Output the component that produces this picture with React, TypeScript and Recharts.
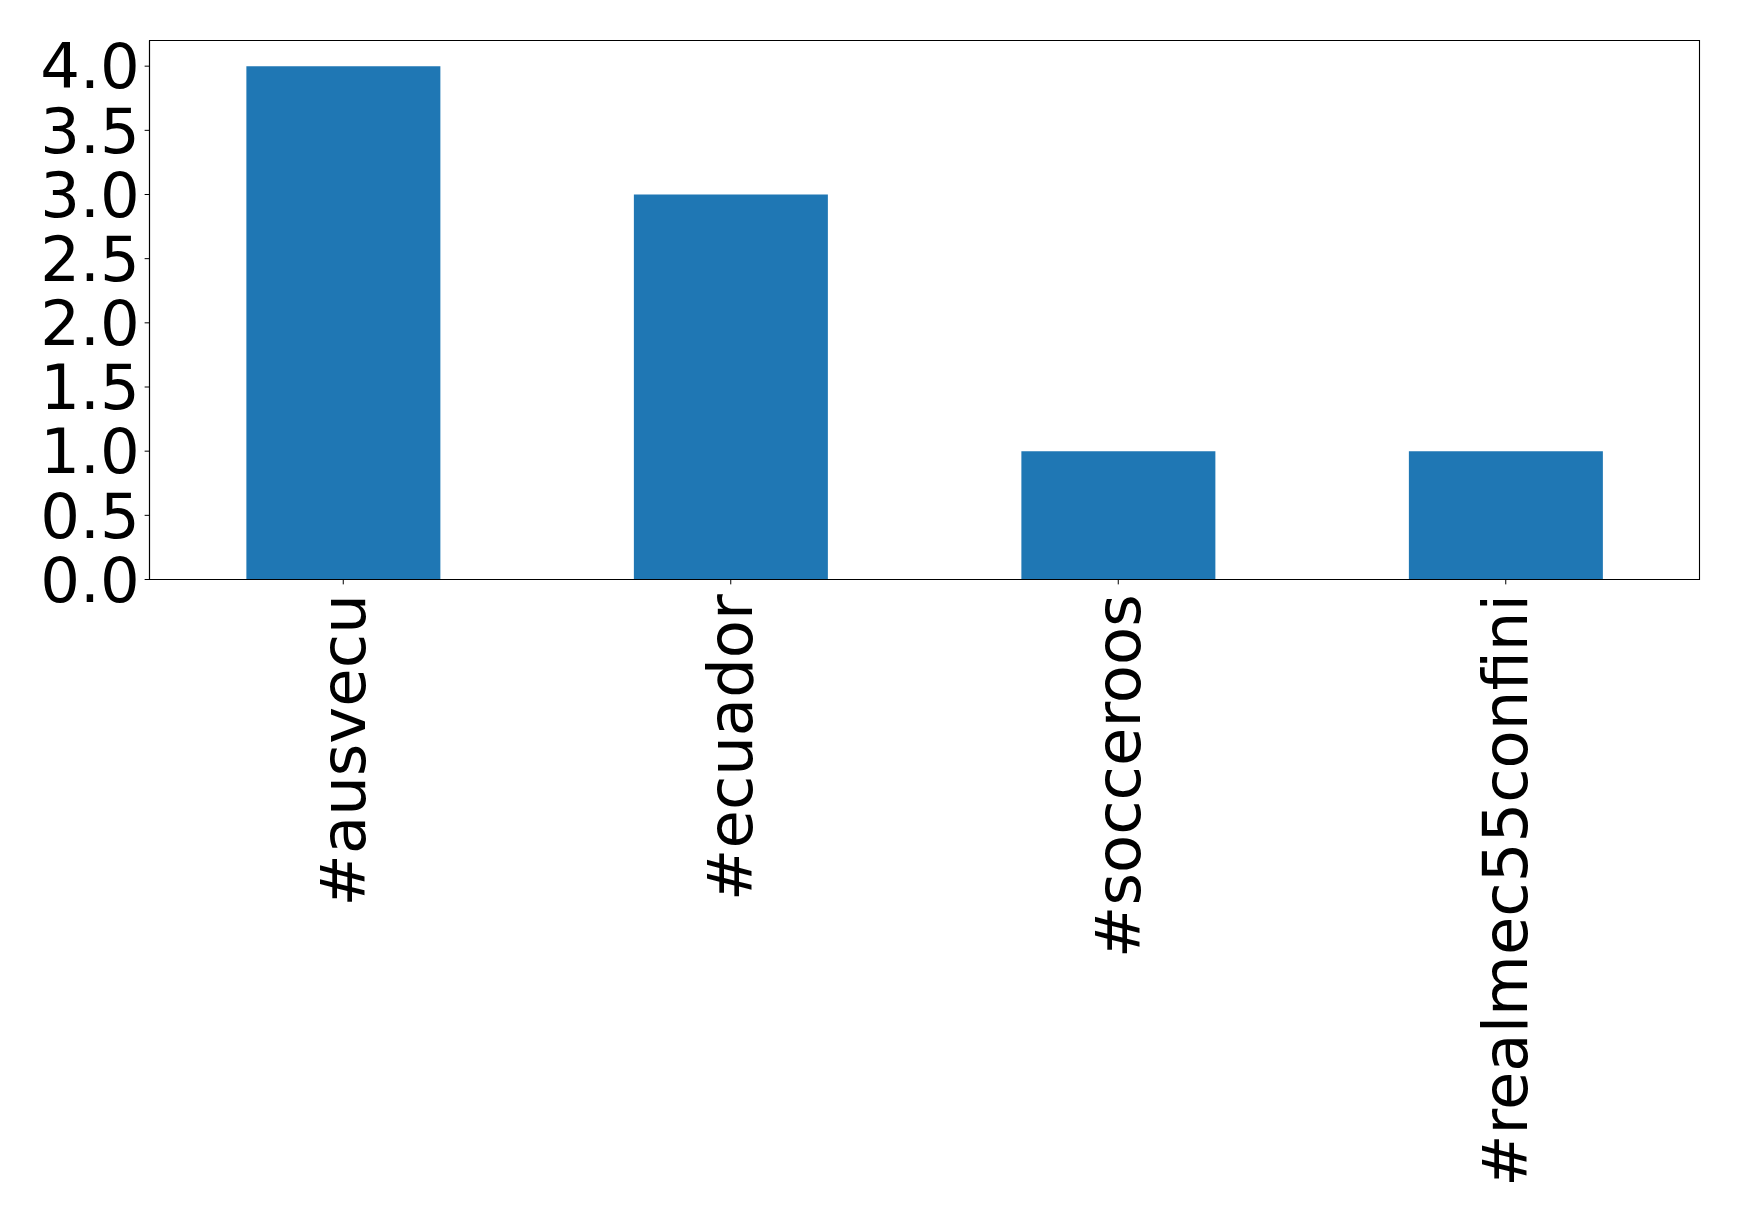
import { BarChart, Bar, XAxis, YAxis, ReferenceArea } from "recharts";

const tags = ["#ausvecu", "#ecuador", "#socceroos", "#realmec55confini"];
const counts = [4, 3, 1, 1];
const yTicks = [0, 0.5, 1, 1.5, 2, 2.5, 3, 3.5, 4];

const data = tags.map((tag, i) => ({ tag, count: counts[i] }));

const FONT = "DejaVu Sans";
const FONT_SIZE = 62.5;
const TICK = 4.86;

function RotatedTick({ x, y, payload }: any) {
  return (
    <text
      transform={`translate(${x},${y + 5}) rotate(-90)`}
      textAnchor="end"
      dominantBaseline="central"
      fontFamily={FONT}
      fontSize={FONT_SIZE}
      fill="#000"
    >
      {payload.value}
    </text>
  );
}

export default function App() {
  return (
    <div style={{ position: "absolute", left: 0, top: 0, background: "#fff" }}>
      <BarChart
        width={1739}
        height={1221}
        data={data}
        margin={{ top: 40.5, right: 39.5, bottom: 0, left: 0 }}
        barCategoryGap="25%"
      >
        <XAxis
          dataKey="tag"
          height={641.5}
          interval={0}
          tick={<RotatedTick />}
          tickSize={TICK}
          tickMargin={TICK}
          stroke="#000"
          tickLine={{ stroke: "#000" }}
          axisLine={{ stroke: "#000", strokeWidth: 1.1 }}
        />
        <YAxis
          domain={[0, 4.2]}
          ticks={yTicks}
          interval={0}
          width={149.5}
          stroke="#000"
          tickFormatter={(v) => Number(v).toFixed(1)}
          tickSize={TICK}
          tickMargin={TICK}
          tick={{ fontFamily: FONT, fontSize: FONT_SIZE, fill: "#000" }}
          tickLine={{ stroke: "#000" }}
          axisLine={{ stroke: "#000", strokeWidth: 1.1 }}
          allowDataOverflow
        />
        <Bar dataKey="count" fill="#1f77b4" isAnimationActive={false} />
        <ReferenceArea
          y1={0}
          y2={4.2}
          fill="none"
          fillOpacity={0}
          stroke="#000"
          strokeWidth={1.1}
          ifOverflow="visible"
        />
      </BarChart>
    </div>
  );
}
